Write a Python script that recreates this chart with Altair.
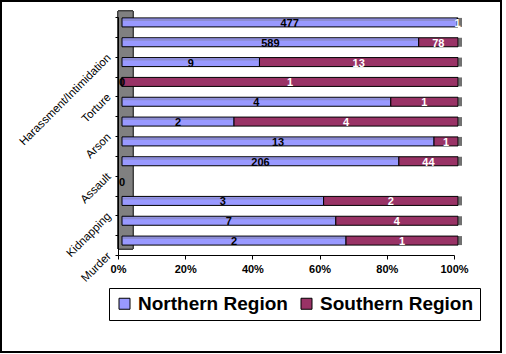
import json
import altair as alt
import pandas as pd

# rows listed top to bottom
north = [477, 589, 9, 0, 4, 2, 13, 206, 0, 3, 7, 2]
south = [1, 78, 13, 1, 1, 4, 1, 44, 0, 2, 4, 1]
row_labels = ["", "Harassment/Intimidation", "", "Torture", "", "Arson", "", "Assault",
              "", "Kidnapping", "", "Murder"]
series = ["Northern Region", "Southern Region"]
ticks = [0, 0.2, 0.4, 0.6, 0.8, 1.0]

rows = []
for i, (n, s) in enumerate(zip(north, south)):
    tot = n + s
    pn = n / tot if tot else 0.0
    ps = s / tot if tot else 0.0
    rows.append(dict(idx=i, region=series[0], count=n, start=0.0, end=pn,
                     mid=pn / 2, total=tot))
    rows.append(dict(idx=i, region=series[1], count=s, start=pn, end=pn + ps,
                     mid=pn + ps / 2, total=tot))
df = pd.DataFrame(rows)

FONT = "Liberation Sans"
XOFF = 4

y_enc = alt.Y("idx:O", sort="ascending",
              scale=alt.Scale(paddingInner=0, paddingOuter=0),
              axis=alt.Axis(title=None, tickBand="extent",
                            labelExpr=f"{json.dumps(row_labels)}[datum.value]",
                            labelAngle=315, labelAlign="right", labelBaseline="middle",
                            labelOffset=9, labelPadding=6, labelFontSize=11.5,
                            labelFont=FONT, labelColor="black", labelOverlap=False,
                            labelBound=False, labelFlush=False, zindex=1,
                            domainColor="black", tickColor="black", tickSize=3))

x_scale = alt.Scale(domain=[0, 1], nice=False, zero=True)

base = alt.Chart(df)

frame = alt.Chart(df).mark_rect(fillOpacity=0, stroke="black", strokeWidth=2).encode(
    x=alt.value(-117), x2=alt.value(383), y=alt.value(-16), y2=alt.value(335))

wall = alt.Chart(df).mark_rect(fill="#808080", stroke="#404040", strokeWidth=1).encode(
    x=alt.value(0), x2=alt.value(15), y=alt.value(-6), y2=alt.value(232))

bars = base.transform_filter("datum.total > 0").mark_bar(
    stroke="black", strokeWidth=1, height=9, xOffset=XOFF, x2Offset=XOFF,
    yOffset=-4.5).encode(
    x=alt.X("start:Q", scale=x_scale,
            axis=alt.Axis(title=None, values=ticks, format="%", grid=False,
                          labelFontSize=11, labelFont=FONT, labelFontWeight="bold",
                          labelColor="black", domainColor="black", tickColor="black",
                          tickSize=4, labelPadding=4, labelFlush=False, zindex=1)),
    x2="end:Q",
    y=y_enc,
    color=alt.Color("region:N", scale=alt.Scale(domain=series, range=["#9999FF", "#993366"]),
                    legend=alt.Legend(title=None, orient="none", legendX=-9, legendY=271,
                                      direction="horizontal", strokeColor="black",
                                      fillColor="white", padding=6,
                                      labelFontSize=19, labelFont=FONT,
                                      labelFontWeight="bold", labelColor="black",
                                      symbolType="square", symbolSize=121,
                                      symbolStrokeColor="black", symbolStrokeWidth=1,
                                      labelOffset=4, columnPadding=9,
                                      labelLimit=400)),
)

strip = base.transform_filter("datum.total > 0 && datum.region == 'Northern Region' && datum.count > 0").mark_bar(
    color="#8C8CD2", height=2, xOffset=XOFF + 1, x2Offset=XOFF - 1, yOffset=-7).encode(
    x=alt.X("start:Q", scale=x_scale), x2="end:Q", y=y_enc)

cap = base.transform_filter("datum.total > 0 && datum.region == 'Southern Region'").mark_tick(
    color="#333333", thickness=4, size=9, xOffset=XOFF + 2, yOffset=-4.5).encode(
    x=alt.datum(1.0), y=y_enc)

north_txt = base.transform_filter("datum.region == 'Northern Region'").mark_text(
    font=FONT, fontSize=11, fontWeight="bold", color="black", baseline="middle",
    xOffset=XOFF, yOffset=-3).encode(
    x=alt.X("mid:Q", scale=x_scale), y=y_enc, text="count:Q")

south_txt = base.transform_filter("datum.region == 'Southern Region' && datum.count > 0").mark_text(
    font=FONT, fontSize=11, fontWeight="bold", color="white", baseline="middle",
    xOffset=XOFF, yOffset=-3).encode(
    x=alt.X("mid:Q", scale=x_scale), y=y_enc, text="count:Q")

chart = alt.layer(frame, wall, bars, strip, cap, north_txt, south_txt).properties(
    width=336, height=238,
    autosize=alt.AutoSizeParams(type="none"),
    padding={"left": 118, "top": 17, "right": 52, "bottom": 99},
    background="white",
).configure_view(stroke=None)

chart.save("out.html", embed_options={"renderer": "svg", "actions": False})
